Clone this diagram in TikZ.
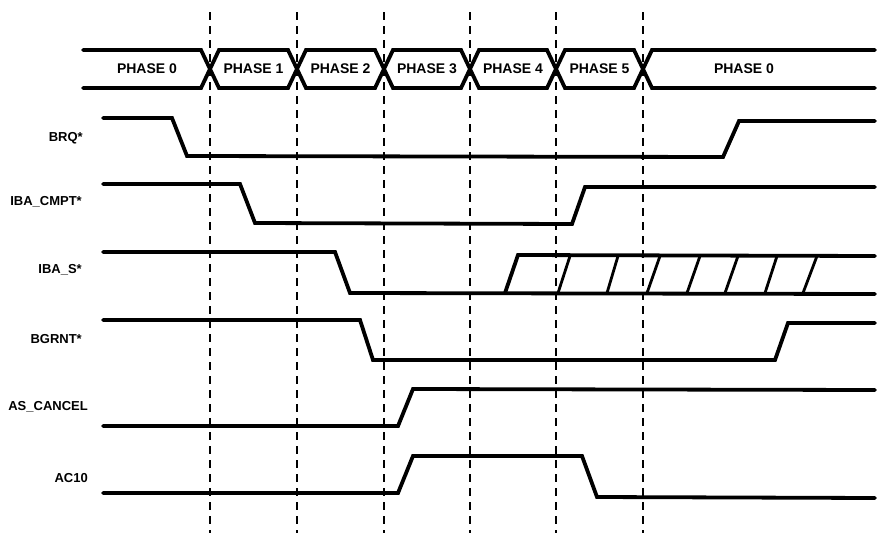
\documentclass[tikz,border=0pt]{standalone}
\usepackage{fontspec}
\setsansfont{Liberation Sans}
\usetikzlibrary{calc}

\begin{document}
\begin{tikzpicture}[
    x=1pt, y=-1pt, font=\sffamily\bfseries,
    wave/.style={line width=3.8pt, line cap=round, line join=miter},
    hatch/.style={line width=2.8pt, line cap=round},
    gridline/.style={line width=1.6pt, dash pattern=on 8pt off 6pt},
    phase label/.style={font=\sffamily\bfseries\fontsize{14}{14}\selectfont, inner sep=0},
    sig label/.style={font=\sffamily\bfseries\fontsize{13}{13}\selectfont, anchor=east, inner sep=0}
]
    \useasboundingbox (0,0) rectangle (878,533);

    % =========================================================
    % PHASE BOUNDARIES (DASHED)
    % =========================================================
    \foreach \t in {210, 297, 384, 470, 556, 643} {
        \draw[gridline] (\t, 12) -- (\t, 533);
    }

    % =========================================================
    % PHASE BUS
    % =========================================================
    \draw[wave] (83,50) -- (201,50) -- (210,69) -- (201,88) -- (83,88);
    \node[phase label] (ph0a) at (147,69) {PHASE 0};

    \foreach \a/\b/\n in {210/297/1, 297/384/2, 384/470/3, 470/556/4, 556/643/5} {
        \draw[wave] (\a,69) -- ({\a+9},50) -- ({\b-9},50) -- (\b,69) -- ({\b-9},88) -- ({\a+9},88) -- cycle;
        \node[phase label] (ph\n) at ({(\a+\b)/2},69) {PHASE \n};
    }

    \draw[wave] (875,50) -- (652,50) -- (643,69) -- (652,88) -- (875,88);
    \node[phase label] (ph0b) at (744,69) {PHASE 0};

    % =========================================================
    % SIGNALS
    % =========================================================
    \foreach \name/\txt/\x/\y in {brq/BRQ*/83/138, cmpt/IBA\_CMPT*/82/202, ibas/IBA\_S*/82/270,
                                  bgrnt/BGRNT*/82/339, ascancel/AS\_CANCEL/88/407, ac10/AC10/88/478} {
        \node[sig label] (\name) at (\x,\y) {\txt};
    }

    % BRQ*
    \draw[wave] (103,118) -- (172,118) -- (187,156) -- (723,157) -- (739,121) -- (875,121);
    % IBA_CMPT*
    \draw[wave] (103,184) -- (240,184) -- (255,223) -- (572,224) -- (585,187) -- (875,187);
    % IBA_S*
    \draw[wave] (103,252) -- (335,252) -- (350,293) -- (875,294);
    \draw[wave] (505,293) -- (518,255) -- (875,256);
    \foreach \lo/\hi in {558/570, 607/618, 647/660, 687/700, 725/738, 765/777, 803/817} {
        \draw[hatch] (\lo,293) -- (\hi,256);
    }
    % BGRNT*
    \draw[wave] (103,320) -- (360,320) -- (373,360) -- (775,360) -- (788,323) -- (875,323);
    % AS_CANCEL
    \draw[wave] (103,426) -- (398,426) -- (413,389) -- (875,390);
    % AC10
    \draw[wave] (103,493) -- (398,493) -- (413,456) -- (582,456) -- (597,497) -- (875,498);

\end{tikzpicture}
\end{document}
